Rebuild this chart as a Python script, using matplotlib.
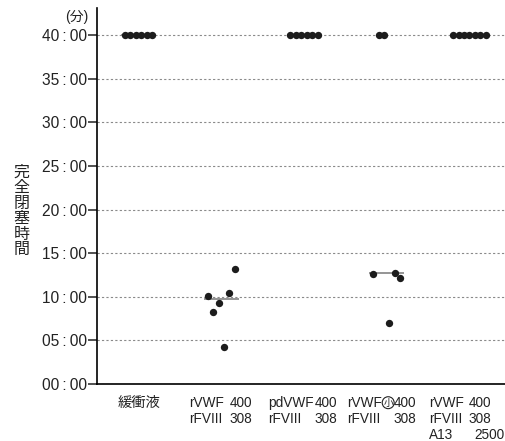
import numpy as np
import matplotlib.pyplot as plt

plt.rcParams['font.family'] = ['Liberation Sans', 'Noto Sans CJK JP', 'DejaVu Sans']

# occlusion times in minutes, listed in the order the dots sit left to right
buffer_times = [40, 40, 40, 40, 40, 40]
rvwf_times = [10.09, 8.29, 9.32, 4.24, 10.39, 13.21]
pdvwf_times = [40, 40, 40, 40, 40, 40]
rvwf_small_times = [12.64, 40, 40, 6.95, 12.76, 12.11]
a13_times = [40, 40, 40, 40, 40, 40, 40]
groups = [buffer_times, rvwf_times, pdvwf_times, rvwf_small_times, a13_times]

label_names = [['緩衝液'], ['rVWF', 'rFVIII'], ['pdVWF', 'rFVIII'],
               ['rVWF', 'rFVIII'], ['rVWF', 'rFVIII', 'A13']]
label_doses = [[], ['400', '308'], ['400', '308'], ['400', '308'],
               ['400', '308', '2500']]
y_ticks = list(range(0, 41, 5))
y_ticklabels = [f'{m:02d}\u2009:\u200900' for m in y_ticks]

# layout of the two-column x labels (offsets from each category centre)
name_dx = [0, -0.389, -0.434, -0.479, -0.487]
dose_dx = [0, 0.372, 0.402, 0.36, 0.262]

fig = plt.figure(figsize=(5.05, 4.41), dpi=100)
ax = fig.add_axes([97 / 505, 57 / 441, 408 / 505, 376 / 441])

step = 0.066
for i, vals in enumerate(groups):
    n = len(vals)
    xs = i + (np.arange(n) - (n - 1) / 2) * step
    med = np.median(vals)
    ax.hlines(med, i - 0.21, i + 0.21, color='#8c8c8c', lw=1.3, zorder=2)
    ax.scatter(xs, vals, s=28, color='#1c1c1c', linewidths=0, zorder=3)

ax.set_xlim(-0.502, 4.43)
ax.set_ylim(0, 43.1)
ax.set_yticks(y_ticks)
ax.set_yticklabels(y_ticklabels)
ax.set_xticks([])
ax.grid(axis='y', color='#8a8a8a', lw=0.8, ls=(0, (2, 2)), zorder=1)
ax.set_axisbelow(True)

for s in ['top', 'right']:
    ax.spines[s].set_visible(False)
for s in ['left', 'bottom']:
    ax.spines[s].set_linewidth(1.2)
ax.tick_params(axis='y', direction='out', length=6.5, width=1.1,
               labelsize=11.2, pad=1, colors='#222222')

# x labels, drawn row by row
trans = ax.get_xaxis_transform()
row_y0 = -18.7 / 376
row_gap = 16.3 / 376
fs = 9.8
for i in range(len(groups)):
    names = label_names[i]
    doses = label_doses[i]
    for r, nm in enumerate(names):
        y = row_y0 - r * row_gap
        if not doses:
            ax.text(i, y, nm, transform=trans, ha='center', va='center',
                    fontsize=10.3, color='#222222')
            continue
        ax.text(i + name_dx[i], y, nm, transform=trans, ha='left',
                va='center', fontsize=fs, color='#222222')
        if doses[r] == '2500':
            ax.text(i + 0.057, y, doses[r], transform=trans, ha='left',
                    va='center', fontsize=fs, color='#222222')
        else:
            ax.text(i + dose_dx[i], y, doses[r], transform=trans, ha='right',
                    va='center', fontsize=fs, color='#222222')

# circled 小 after rVWF in the fourth label
ax.text(3 + 0.018, row_y0, '小', transform=trans, ha='center', va='center',
        fontsize=7.0, color='#222222',
        bbox=dict(boxstyle='circle,pad=0.1', fc='none', ec='#222222', lw=0.8))

fig.text(21.5 / 505, 1 - 211 / 441, '\n'.join('完全閉塞時間'), ha='center',
         va='center', fontsize=11.5, linespacing=1.04, color='#222222')
fig.text(88 / 505, 1 - 16.5 / 441, '(分)', ha='right', va='center',
         fontsize=10, color='#222222')

fig.savefig('out.png', dpi=100)
